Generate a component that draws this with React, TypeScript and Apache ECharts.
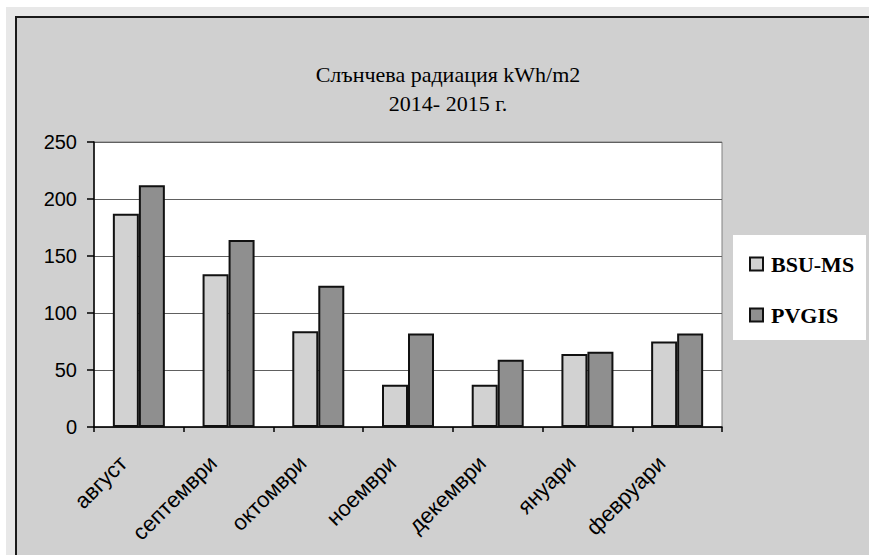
import React, { useEffect, useRef } from "react";
import * as echarts from "echarts";

const titleLines = ["Слънчева радиация kWh/m2", "2014- 2015 г."];
const months = ["август", "септември", "октомври", "ноември", "декември", "януари", "февруари"];
const seriesNames = ["BSU-MS", "PVGIS"];
const bsuValues = [187, 134, 84, 37, 37, 64, 75];
const pvgisValues = [212, 164, 124, 82, 59, 66, 82];
const yTicks = [0, 50, 100, 150, 200, 250];

export default function App() {
  const ref = useRef<HTMLDivElement>(null);
  useEffect(() => {
    if (!ref.current) return;
    const chart = echarts.init(ref.current, null, { renderer: "svg" });
    chart.setOption({
      animation: false,
      title: {
        text: titleLines.join("\n"),
        left: 443,
        top: 55,
        textAlign: "center",
        textStyle: {
          fontFamily: "Liberation Serif",
          fontSize: 22,
          fontWeight: "normal",
          lineHeight: 29,
          color: "#000",
        },
      },
      graphic: [
        {
          type: "rect",
          z: 0,
          shape: { x: 733, y: 235, width: 133, height: 105 },
          style: { fill: "#ffffff", stroke: "none" },
        },
      ],
      legend: {
        orient: "vertical",
        left: 744,
        top: 248,
        itemWidth: 13,
        itemHeight: 13,
        itemGap: 29,
        icon: "rect",
        data: seriesNames,
        textStyle: {
          fontFamily: "Liberation Serif",
          fontWeight: "bold",
          fontSize: 22,
          lineHeight: 20,
          color: "#000",
          padding: [0, 0, 0, 3],
        },
      },
      grid: {
        left: 94,
        top: 142,
        width: 628,
        height: 285,
        show: true,
        backgroundColor: "#ffffff",
        borderColor: "#808080",
        borderWidth: 1,
      },
      xAxis: {
        type: "category",
        data: months,
        axisLine: { lineStyle: { color: "#000", width: 1.5 } },
        axisTick: { show: true, length: 5, lineStyle: { color: "#000", width: 1.5 } },
        axisLabel: {
          rotate: 45,
          interval: 0,
          margin: 17,
          padding: [0, 22, 0, 0],
          fontFamily: "Liberation Sans",
          fontSize: 22,
          color: "#000",
        },
      },
      yAxis: {
        type: "value",
        min: yTicks[0],
        max: yTicks[yTicks.length - 1],
        interval: 50,
        axisLine: { show: true, lineStyle: { color: "#000", width: 1.5 } },
        axisTick: { show: true, length: 7, lineStyle: { color: "#000", width: 1.5 } },
        axisLabel: {
          margin: 17,
          fontFamily: "Liberation Sans",
          fontSize: 20,
          color: "#000",
        },
        splitLine: { show: true, lineStyle: { color: "#606060", width: 1 } },
      },
      series: [
        {
          name: seriesNames[0],
          type: "bar",
          data: bsuValues,
          barWidth: 26,
          barGap: "0%",
          itemStyle: { color: "#d2d2d2", borderColor: "#111", borderWidth: 2 },
        },
        {
          name: seriesNames[1],
          type: "bar",
          data: pvgisValues,
          barWidth: 26,
          barGap: "0%",
          itemStyle: { color: "#8f8f8f", borderColor: "#111", borderWidth: 2 },
        },
      ],
    });
    return () => chart.dispose();
  }, []);

  return (
    <div style={{ position: "fixed", left: 0, top: 0, right: 0, bottom: 0, background: "#fff", overflow: "hidden" }}>
      <div style={{ position: "absolute", left: 6, top: 7, right: -20, bottom: -20, background: "#e8e8e8" }} />
      <div
        style={{
          position: "absolute",
          left: 15,
          top: 16,
          right: -20,
          bottom: -20,
          background: "#d0d0d0",
          borderTop: "2px solid #1a1a1a",
          borderLeft: "2px solid #1a1a1a",
        }}
      />
      <div ref={ref} style={{ position: "absolute", left: 0, top: 0, width: 869, height: 555 }} />
    </div>
  );
}
